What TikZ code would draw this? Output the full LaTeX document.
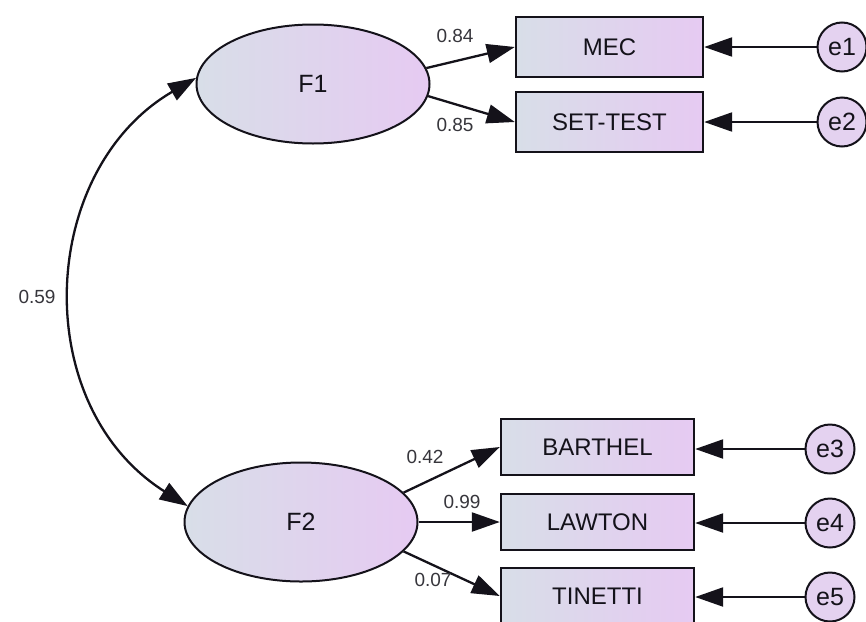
\documentclass[tikz,border=0pt]{standalone}
\usepackage{fontspec}
\setmainfont{Liberation Sans}
\usetikzlibrary{shapes.geometric,arrows.meta}

\definecolor{shadeL}{RGB}{216,222,232}
\definecolor{shadeR}{RGB}{230,202,242}
\definecolor{errfill}{RGB}{228,210,240}
\definecolor{ink}{RGB}{20,18,26}

\tikzset{
  latent/.style={ellipse, draw=ink, line width=2pt, left color=shadeL, right color=shadeR,
    minimum width=233pt, minimum height=119pt, inner sep=0pt, font=\fontsize{25}{28}\selectfont, text=ink},
  observed/.style={rectangle, draw=ink, line width=2.4pt, left color=shadeL, right color=shadeR,
    minimum height=58pt, inner sep=0pt, font=\fontsize{24}{28}\selectfont, text=ink},
  errvar/.style={circle, draw=ink, line width=2pt, fill=errfill, minimum size=49pt, inner sep=0pt,
    font=\fontsize{25}{28}\selectfont, text=ink},
  coef/.style={font=\fontsize{19}{21}\selectfont, text=ink!85, inner sep=0pt},
  path/.style={draw=ink, line width=2.3pt, -{Triangle[length=28pt,width=19pt]}},
  cov/.style={draw=ink, line width=2.3pt, {Triangle[length=28pt,width=19pt]}-{Triangle[length=28pt,width=19pt]}}
}

\begin{document}
\begin{tikzpicture}[x=1pt,y=-1pt]
  \useasboundingbox[fill=white] (0,0) rectangle (866,621);

  % latent factors
  \node[latent] (F1) at (313,84) {F1};
  \node[latent] (F2) at (301,522) {F2};

  % indicators of F1
  \node[observed, minimum width=187pt, minimum height=60pt] (MEC) at (609.5,47) {MEC};
  \node[observed, minimum width=187pt, minimum height=60pt] (SET) at (609.5,122) {SET-TEST};

  % indicators of F2
  \node[observed, minimum width=193pt, minimum height=56pt] (BAR) at (597.5,447) {BARTHEL};
  \node[observed, minimum width=193pt, minimum height=56pt] (LAW) at (597.5,522) {LAWTON};
  \node[observed, minimum width=193pt, minimum height=56pt] (TIN) at (597.5,596) {TINETTI};

  % error terms
  \node[errvar] (e1) at (842,47) {e1};
  \node[errvar] (e2) at (842,122) {e2};
  \node[errvar] (e3) at (830,449) {e3};
  \node[errvar] (e4) at (830,523) {e4};
  \node[errvar] (e5) at (830,597) {e5};

  % factor loadings
  \draw[path] (F1.8) -- (MEC.west);
  \draw[path] (F1.-6) -- (SET.west);
  \draw[path] (F2.16) -- (BAR.west);
  \draw[path] (F2.east) -- (LAW.west);
  \draw[path] (F2.-16) -- (TIN.west);

  % error paths
  \draw[path] (e1) -- (MEC);
  \draw[path] (e2) -- (SET);
  \draw[path] (e3) -- (BAR.east |- e3);
  \draw[path] (e4) -- (LAW.east |- e4);
  \draw[path] (e5) -- (TIN.east |- e5);

  % factor covariance
  \draw[cov] (F1.177) .. controls (38,170) and (28,405) .. (F2.172);

  % coefficients
  \node[coef] (c1) at (455,36) {0.84};
  \node[coef] (c2) at (455,125) {0.85};
  \node[coef] (c3) at (425,457) {0.42};
  \node[coef] (c4) at (462,502) {0.99};
  \node[coef] (c5) at (433,580) {0.07};
  \node[coef] (c6) at (37,297) {0.59};
\end{tikzpicture}
\end{document}
